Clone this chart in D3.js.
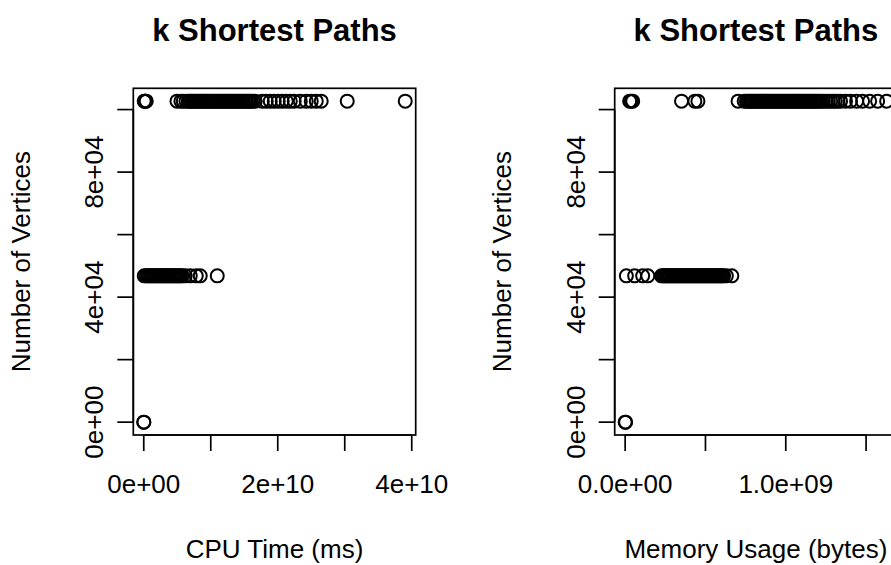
<!DOCTYPE html>
<html>
<head>
<meta charset="utf-8">
<script src="https://cdn.jsdelivr.net/npm/d3@7"></script>
<style>
  body { margin: 0; background: #fff; }
  svg { display: block; font-family: "Liberation Sans", Arial, sans-serif; }
</style>
</head>
<body>
<div id="vis"></div>
<script>
const WIDTH = 891;
const HEIGHT = 565;

// vertex counts (three graph sizes)
const vertexLevels = [0, 46800, 102700];

// CPU time (units of 1e9 ms), grouped by vertex level
const cpuZero = [0, 0.02];
const cpuMid = [0.07, 0.37, 0.60, 0.82, 1.05, 1.27, 1.50, 1.72, 1.95, 2.16, 2.40, 2.61, 2.85, 3.06,
  3.30, 3.51, 3.75, 3.96, 4.20, 4.40, 4.62, 4.85, 5.05, 5.30, 5.50, 5.75, 6.19, 6.94, 7.84, 8.43, 10.97];
const cpuTop = [0.07, 0.15, 0.22, 0.37, 4.96, 5.55, 5.90, 6.30, 6.64, 6.85, 7.09, 7.30, 7.54, 7.72,
  7.98, 8.20, 8.43, 8.61, 8.88, 9.05, 9.33, 9.50, 9.78, 9.95, 10.22, 10.40, 10.67, 10.85, 11.12,
  11.30, 11.57, 11.75, 12.01, 12.20, 12.46, 12.65, 12.91, 13.10, 13.36, 13.55, 13.81, 14.00, 14.25,
  14.45, 14.70, 14.90, 15.15, 15.35, 15.60, 15.80, 16.04, 16.30, 16.64, 17.69, 18.28, 18.88, 19.48,
  20.07, 20.67, 21.27, 21.87, 22.46, 23.36, 24.25, 25.00, 25.75, 26.49, 30.37, 39.03];

// memory usage (units of 1e8 bytes), grouped by vertex level
const memZero = [0, 0.03];
const memMid = [0.075, 0.59, 1.09, 1.41, 2.26, 2.36, 2.45, 2.54, 2.62, 2.71, 2.80, 2.89, 2.98, 3.07,
  3.16, 3.25, 3.33, 3.42, 3.50, 3.59, 3.68, 3.77, 3.85, 3.94, 4.03, 4.12, 4.20, 4.29, 4.38, 4.47,
  4.55, 4.64, 4.73, 4.82, 4.90, 4.99, 5.08, 5.17, 5.25, 5.34, 5.43, 5.52, 5.60, 5.69, 5.78, 5.87,
  5.95, 6.04, 6.13, 6.30, 6.64];
const memTop = [0.28, 0.375, 0.47, 3.51, 4.34, 4.53, 7.03, 7.41, 7.55, 7.66, 7.75, 7.84, 7.92, 8.03,
  8.12, 8.22, 8.31, 8.41, 8.50, 8.59, 8.69, 8.78, 8.87, 8.97, 9.06, 9.16, 9.25, 9.34, 9.44, 9.53,
  9.62, 9.72, 9.81, 9.91, 10.00, 10.09, 10.19, 10.28, 10.38, 10.47, 10.56, 10.66, 10.75, 10.84,
  10.94, 11.03, 11.13, 11.22, 11.31, 11.41, 11.50, 11.59, 11.69, 11.78, 11.88, 11.97, 12.09, 12.20,
  12.34, 12.50, 12.65, 12.80, 12.95, 13.09, 13.25, 13.41, 13.72, 14.03, 14.41, 14.78, 15.22, 15.72, 16.28];

// axis ticks and the labels R left visible
const cpuTicks = [0, 1e10, 2e10, 3e10, 4e10];
const cpuTickLabels = ["0e+00", "", "2e+10", "", "4e+10"];
const memTicks = [0, 5e8, 1e9, 1.5e9];
const memTickLabels = ["0.0e+00", "", "1.0e+09", ""];
const yTicks = [0, 2e4, 4e4, 6e4, 8e4, 1e5];
const yTickLabels = ["0e+00", "", "4e+04", "", "8e+04", ""];

const title = "k Shortest Paths";
const yTitle = "Number of Vertices";

const svg = d3.select("#vis").append("svg")
  .attr("width", WIDTH).attr("height", HEIGHT);

const BOX = { left: 133.3, right: 415.7, top: 88.3, bottom: 435 };
const LW = 1.7;
const FONT = 26;

// R style: range extended by 4% each side
function padded(lo, hi) {
  const r = hi - lo;
  return [lo - 0.04 * r, hi + 0.04 * r];
}

function panel(offset, groups, xTicks, xLabels, xTitle) {
  const g = svg.append("g").attr("transform", `translate(${offset},0)`);

  const allX = groups.flat();
  const x = d3.scaleLinear().domain(padded(d3.min(allX), d3.max(allX)))
    .range([BOX.left, BOX.right]);
  const y = d3.scaleLinear().domain(padded(0, d3.max(vertexLevels)))
    .range([BOX.bottom, BOX.top]);

  const pts = [];
  groups.forEach((arr, i) => arr.forEach(v => pts.push({ x: v, y: vertexLevels[i] })));

  g.selectAll(".pt")
    .data(pts)
    .join("circle")
    .attr("class", "pt")
    .attr("cx", d => x(d.x))
    .attr("cy", d => y(d.y))
    .attr("r", 6.5)
    .attr("fill", "none")
    .attr("stroke", "black")
    .attr("stroke-width", 2);

  g.append("rect")
    .attr("x", BOX.left).attr("y", BOX.top)
    .attr("width", BOX.right - BOX.left).attr("height", BOX.bottom - BOX.top)
    .attr("fill", "none").attr("stroke", "black").attr("stroke-width", LW);

  // x axis
  const xa = g.append("g");
  xa.append("line")
    .attr("x1", x(xTicks[0])).attr("x2", x(xTicks[xTicks.length - 1]))
    .attr("y1", BOX.bottom).attr("y2", BOX.bottom)
    .attr("stroke", "black").attr("stroke-width", LW);
  xa.selectAll(".tk").data(xTicks).join("line")
    .attr("x1", d => x(d)).attr("x2", d => x(d))
    .attr("y1", BOX.bottom).attr("y2", BOX.bottom + 16)
    .attr("stroke", "black").attr("stroke-width", LW);
  xa.selectAll(".lb").data(xTicks).join("text")
    .attr("x", d => x(d)).attr("y", BOX.bottom + 57.5)
    .attr("text-anchor", "middle").attr("font-size", FONT)
    .text((d, i) => xLabels[i]);

  // y axis
  const ya = g.append("g");
  ya.append("line")
    .attr("x1", BOX.left).attr("x2", BOX.left)
    .attr("y1", y(yTicks[0])).attr("y2", y(yTicks[yTicks.length - 1]))
    .attr("stroke", "black").attr("stroke-width", LW);
  ya.selectAll(".tk").data(yTicks).join("line")
    .attr("x1", BOX.left - 16).attr("x2", BOX.left)
    .attr("y1", d => y(d)).attr("y2", d => y(d))
    .attr("stroke", "black").attr("stroke-width", LW);
  ya.selectAll(".lb").data(yTicks).join("text")
    .attr("transform", d => `translate(${BOX.left - 30},${y(d)}) rotate(-90)`)
    .attr("text-anchor", "middle").attr("font-size", FONT)
    .text((d, i) => yTickLabels[i]);

  // titles
  const cx = (BOX.left + BOX.right) / 2;
  g.append("text")
    .attr("x", cx).attr("y", 41)
    .attr("text-anchor", "middle").attr("font-size", 31).attr("font-weight", "bold")
    .text(title);
  g.append("text")
    .attr("x", cx).attr("y", 558)
    .attr("text-anchor", "middle").attr("font-size", FONT)
    .text(xTitle);
  g.append("text")
    .attr("transform", `translate(30,${(BOX.top + BOX.bottom) / 2}) rotate(-90)`)
    .attr("text-anchor", "middle").attr("font-size", FONT)
    .text(yTitle);
}

panel(0, [cpuZero, cpuMid, cpuTop].map(a => a.map(v => v * 1e9)),
  cpuTicks, cpuTickLabels, "CPU Time (ms)");
panel(481.4, [memZero, memMid, memTop].map(a => a.map(v => v * 1e8)),
  memTicks, memTickLabels, "Memory Usage (bytes)");
</script>
</body>
</html>
